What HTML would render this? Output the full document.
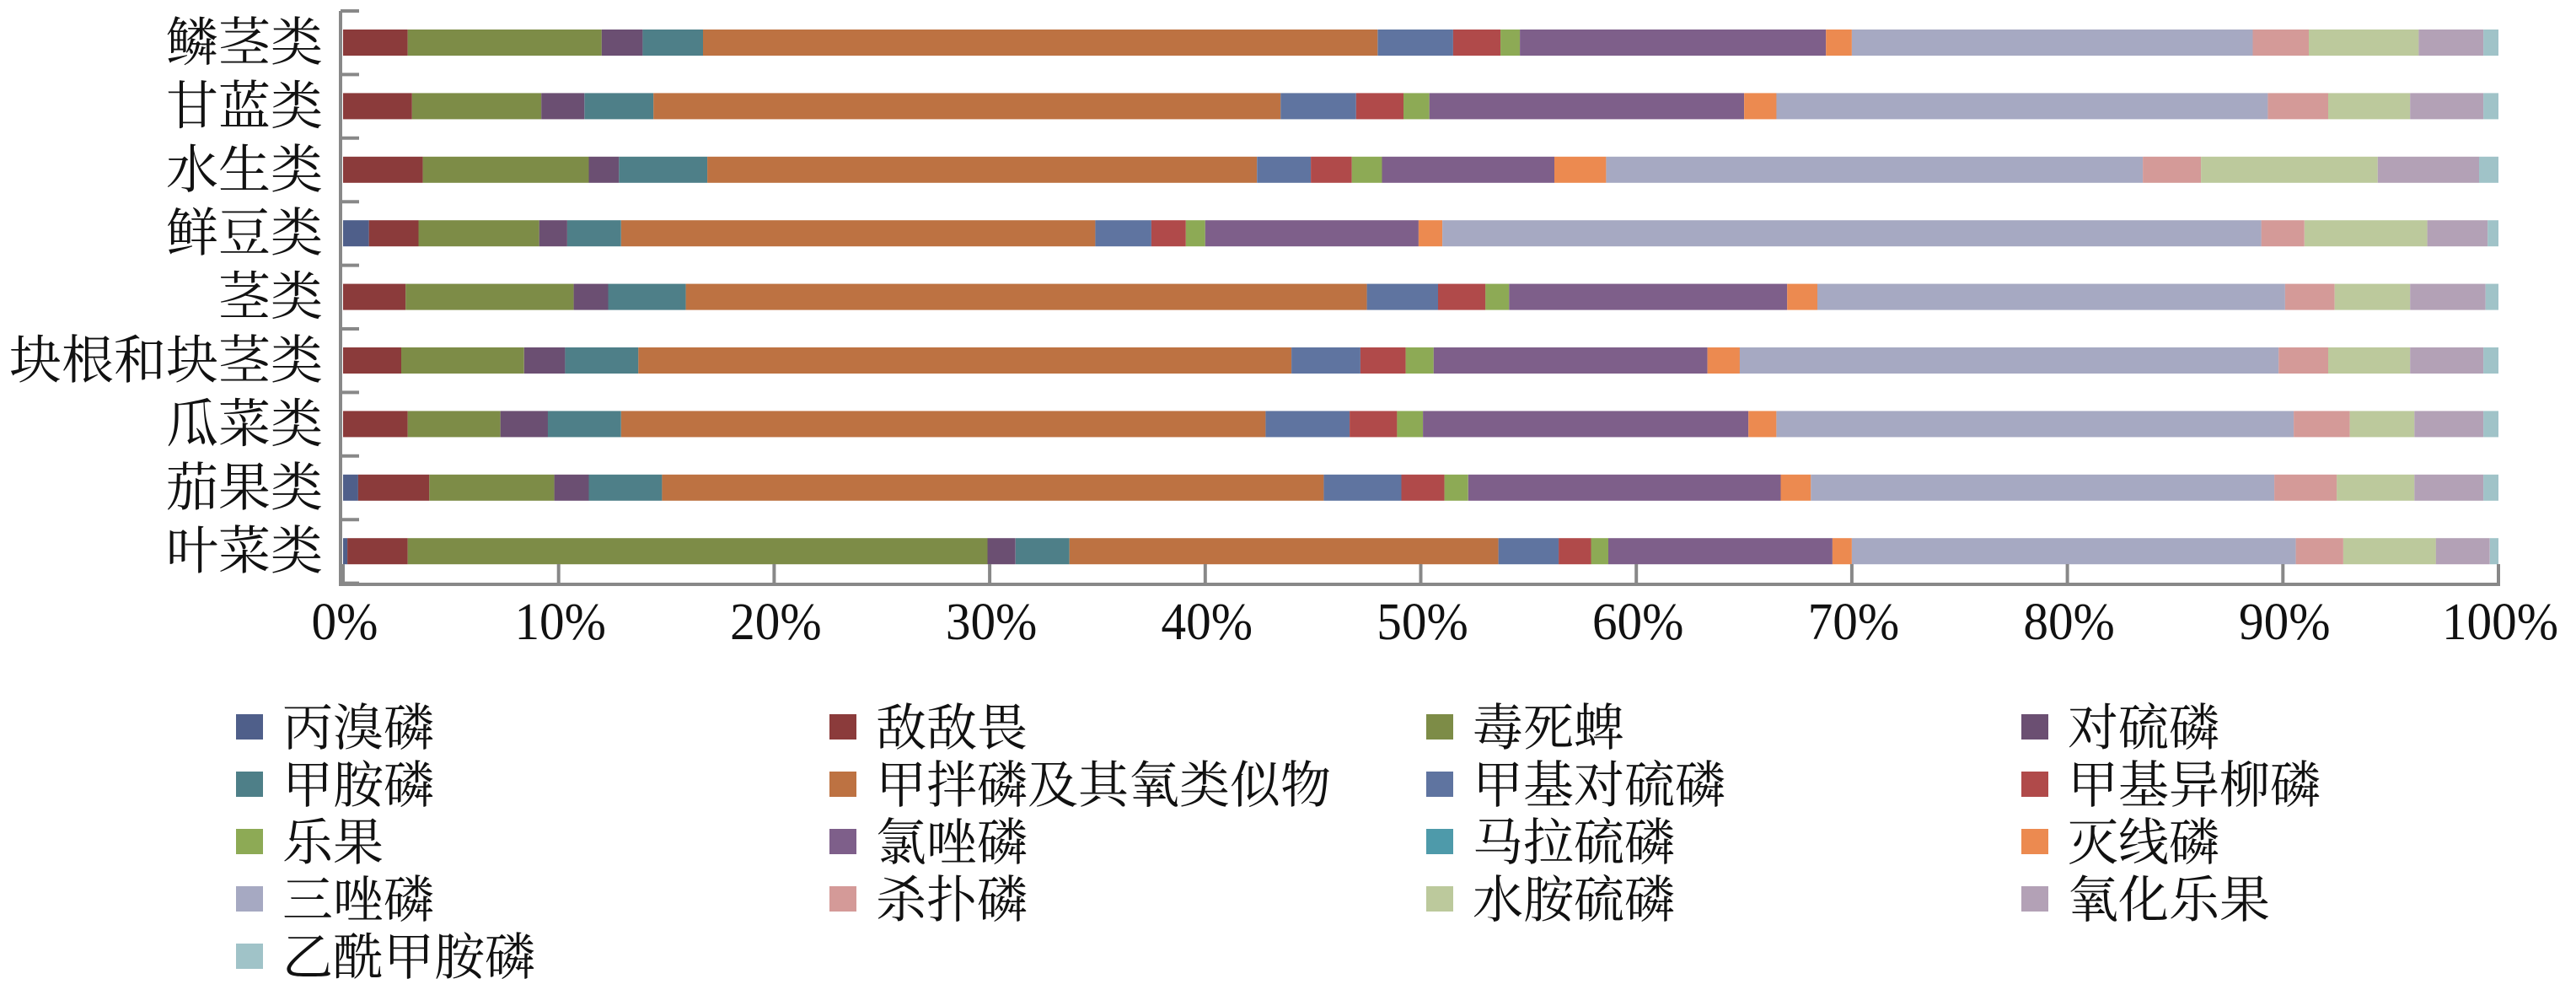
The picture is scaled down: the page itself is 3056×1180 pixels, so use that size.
<!DOCTYPE html>
<html><head><meta charset="utf-8"><style>
html,body{margin:0;padding:0;background:#fff;}
svg{display:block;}
.cat{font-family:"Liberation Serif","Noto Serif CJK SC",serif;font-size:62px;fill:#111;}
.leg{font-family:"Liberation Serif","Noto Serif CJK SC",serif;font-size:60px;fill:#111;}
.tick{font-family:"Liberation Serif",serif;font-size:63px;fill:#111;}
</style></head><body>
<svg id="s" width="3056" height="1180" xmlns="http://www.w3.org/2000/svg"></svg>
<script>
const colors=["#4f5f8a","#8b3b3b","#7d8c47","#6b4f72","#4e7f88","#bd7242","#5f74a0","#b04a4a","#8daa55","#7e5f8a","#4e9aaa","#ec8a50","#a6a9c2","#d49a98","#bcc99c","#b3a1b6","#a0c3c8"];
const names=["丙溴磷","敌敌畏","毒死蜱","对硫磷","甲胺磷","甲拌磷及其氧类似物","甲基对硫磷","甲基异柳磷","乐果","氯唑磷","马拉硫磷","灭线磷","三唑磷","杀扑磷","水胺硫磷","氧化乐果","乙酰甲胺磷"];
const cats=["鳞茎类","甘蓝类","水生类","鲜豆类","茎类","块根和块茎类","瓜菜类","茄果类","叶菜类"];
const ends=[
[0,3.0,12.0,13.9,16.7,48.0,51.5,53.7,54.6,68.8,68.8,70.0,88.6,91.2,96.3,99.3],
[0,3.2,9.2,11.2,14.4,43.5,47.0,49.2,50.4,65.0,65.0,66.5,89.3,92.1,95.9,99.3],
[0,3.7,11.4,12.8,16.9,42.4,44.9,46.8,48.2,56.2,56.2,58.6,83.5,86.2,94.4,99.1],
[1.2,3.5,9.1,10.4,12.9,34.9,37.5,39.1,40.0,49.9,49.9,51.0,89.0,91.0,96.7,99.5],
[0,2.9,10.7,12.3,15.9,47.5,50.8,53.0,54.1,67.0,67.0,68.4,90.1,92.4,95.9,99.4],
[0,2.7,8.4,10.3,13.7,44.0,47.2,49.3,50.6,63.3,63.3,64.8,89.8,92.1,95.9,99.3],
[0,3.0,7.3,9.5,12.9,42.8,46.7,48.9,50.1,65.2,65.2,66.5,90.5,93.1,96.1,99.3],
[0.7,4.0,9.8,11.4,14.8,45.5,49.1,51.1,52.2,66.7,66.7,68.1,89.6,92.5,96.1,99.3],
[0.2,3.0,29.9,31.2,33.7,53.6,56.4,57.9,58.7,69.1,69.1,70.0,90.6,92.8,97.1,99.6]];
const X0=407,W=2557;
let h='';
cats.forEach((c,i)=>{
  const cy=50.5+75.4*i;
  let prev=0;
  const e=ends[i].concat([100]);
  e.forEach((v,k)=>{
    if(v>prev){h+=`<rect x="${(X0+prev*W/100).toFixed(1)}" y="${cy-15.5}" width="${((v-prev)*W/100).toFixed(1)}" height="31" fill="${colors[k]}"/>`;}
    prev=Math.max(prev,v);
  });
  h+=`<text class="cat" x="383" y="${cy+21}" text-anchor="end">${c}</text>`;
});
h+=`<line x1="404" y1="13" x2="404" y2="695" stroke="#888" stroke-width="4"/>`;
h+=`<line x1="402" y1="693" x2="2966" y2="693" stroke="#888" stroke-width="4"/>`;
for(let k=0;k<=9;k++){const y=13+75.4*k;h+=`<line x1="404" y1="${y}" x2="426" y2="${y}" stroke="#888" stroke-width="4"/>`;}
for(let k=0;k<=10;k++){const x=X0+W*k/10;h+=`<line x1="${x}" y1="669" x2="${x}" y2="693" stroke="#888" stroke-width="4"/>`;
  h+=`<text class="tick" transform="translate(${x+2},758) scale(0.94,1)" text-anchor="middle">${k*10}%</text>`;}
const colx=[280,984,1692,2398];
names.forEach((n,i)=>{
  const r=Math.floor(i/4),c=i%4;const cy=862+68*r;
  h+=`<rect x="${colx[c]}" y="${cy-15}" width="32" height="30" fill="${colors[i]}"/>`;
  h+=`<text class="leg" x="${colx[c]+55}" y="${cy+22}">${n}</text>`;
});
document.getElementById('s').innerHTML=h;
</script>
</body></html>
